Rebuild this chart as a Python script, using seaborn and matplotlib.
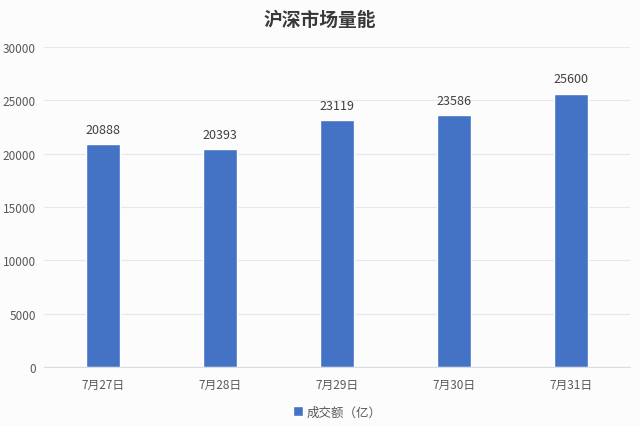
import matplotlib
matplotlib.use("Agg")
import matplotlib.pyplot as plt
import seaborn as sns
import pandas as pd

dates = ["7月27日", "7月28日", "7月29日", "7月30日", "7月31日"]
volume = [20888, 20393, 23119, 23586, 25600]
series_name = "成交额（亿）"
title = "沪深市场量能"

sns.set_theme(style="white")
plt.rcParams['font.family'] = ['Noto Sans CJK SC', 'DejaVu Sans']

df = pd.DataFrame({"date": dates, "volume": volume, "series": series_name})

bg = "#fcfcfd"
fig = plt.figure(figsize=(6.4, 4.27), dpi=100, facecolor=bg)
ax = fig.add_axes([0.069, 0.138, 0.915, 0.750])
ax.set_facecolor(bg)

sns.barplot(data=df, x="date", y="volume", hue="series", palette=["#4472c4"],
            width=0.29, ax=ax, saturation=1, legend=True)

ax.set_ylim(0, 30000)
ax.set_yticks(range(0, 30001, 5000))
ax.set_xlim(-0.5, len(dates) - 0.5)
ax.yaxis.grid(True, color="#e6e8ee", linewidth=0.8)
ax.set_axisbelow(True)
for s in ["top", "right", "left"]:
    ax.spines[s].set_visible(False)
ax.spines["bottom"].set_color("#d9dce4")
ax.spines["bottom"].set_linewidth(0.8)

ax.tick_params(axis="y", length=0, labelsize=8.5, labelcolor="#595959", pad=6)
ax.tick_params(axis="x", length=0, labelsize=8.5, labelcolor="#595959", pad=8)
ax.set_xticks(range(len(dates)))
ax.set_xticks([i + 0.5 for i in range(len(dates) - 1)], minor=True)
ax.tick_params(axis="x", which="minor", length=4, color="#d9dce4", width=0.8)
ax.set_xlabel("")
ax.set_ylabel("")

for c in ax.containers:
    ax.bar_label(c, fmt="%d", padding=6, fontsize=9, color="#404040")

ax.legend(loc="upper center", bbox_to_anchor=(0.5, -0.085), frameon=False,
          fontsize=9, labelcolor="#595959", handlelength=0.8, handleheight=0.8,
          handletextpad=0.3)

fig.suptitle(title, y=0.975, fontsize=13.5, fontweight="bold", color="#3a3a3a")

fig.savefig("out.png", dpi=100, facecolor=bg)
